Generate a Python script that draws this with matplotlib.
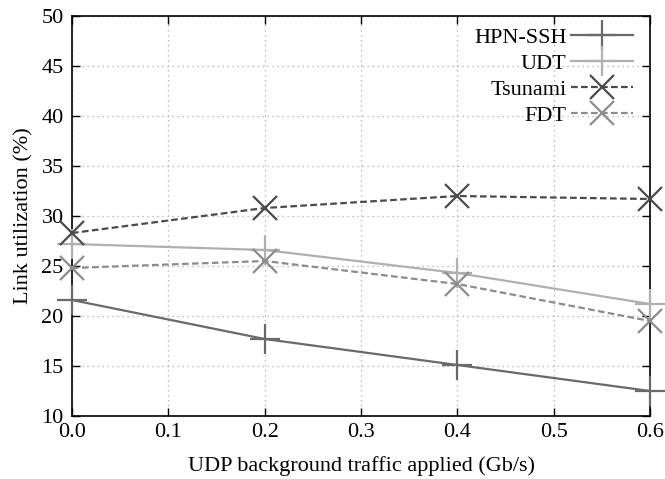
import matplotlib
matplotlib.use("Agg")
import matplotlib.pyplot as plt

plt.rcParams['font.family'] = ['Liberation Serif', 'DejaVu Serif']
plt.rcParams['font.size'] = 16

traffic = [0.0, 0.2, 0.4, 0.6]
hpn_ssh = [21.6, 17.7, 15.1, 12.5]
udt = [27.2, 26.6, 24.3, 21.2]
tsunami = [28.3, 30.8, 32.0, 31.7]
fdt = [24.8, 25.5, 23.2, 19.5]

fig = plt.figure(figsize=(6.65, 4.79), dpi=100)
ax = fig.add_axes([72 / 665, 1 - 416 / 479, 578 / 665, 400 / 479])

ax.plot(traffic, hpn_ssh, color='#6a6a6a', lw=1.6, marker='+', ms=22, mew=1.6,
        label='HPN-SSH', clip_on=False, zorder=3)
ax.plot(traffic, udt, color='#b0b0b0', lw=1.6, marker='+', ms=22, mew=1.6,
        label='UDT', clip_on=False, zorder=3)
ax.plot(traffic, tsunami, color='#4a4a4a', lw=1.6, ls=(0, (3, 1.5)), marker='x', ms=17, mew=1.6,
        label='Tsunami', clip_on=False, zorder=3)
ax.plot(traffic, fdt, color='#8c8c8c', lw=1.6, ls=(0, (3, 1.5)), marker='x', ms=17, mew=1.6,
        label='FDT', clip_on=False, zorder=3)

ax.set_xlim(0, 0.6)
ax.set_ylim(10, 50)
ax.set_xticks([0.0, 0.1, 0.2, 0.3, 0.4, 0.5, 0.6])
ax.set_yticks(range(10, 51, 5))
ax.xaxis.set_major_formatter(matplotlib.ticker.FormatStrFormatter('%.1f'))
ax.tick_params(direction='in', length=6, width=1, top=True, right=True, labelsize=16)
ax.tick_params(axis='y', pad=6)
ax.tick_params(axis='x', pad=5)
ax.grid(True, ls=(0, (1, 3)), color='#aaaaaa', lw=0.9)
for s in ax.spines.values():
    s.set_linewidth(1.2)

ax.set_xlabel('UDP background traffic applied (Gb/s)', fontsize=16, labelpad=10)
ax.set_ylabel('Link utilization (%)', fontsize=16, labelpad=6)

ax.legend(loc='upper right', frameon=False, markerfirst=False, handlelength=2.8,
          labelspacing=0.25, borderaxespad=0.2, fontsize=16, handletextpad=0.2,
          borderpad=0.3, bbox_to_anchor=(0.99, 1.0))

fig.savefig('out.png', dpi=100)
